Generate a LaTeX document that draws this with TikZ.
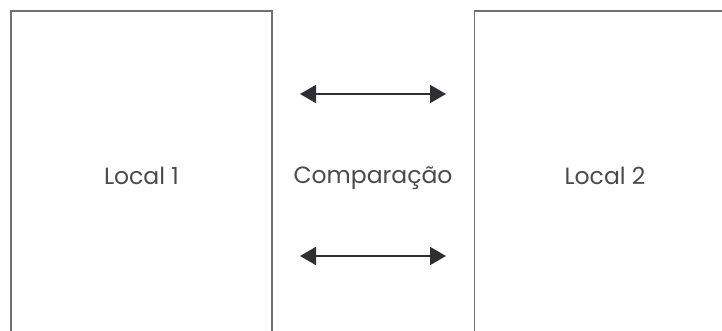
\documentclass[tikz,border=0pt]{standalone}
\usepackage{fontspec}
\setmainfont{Poppins}
\usetikzlibrary{arrows.meta}

\definecolor{boxgray}{HTML}{707070}
\definecolor{txtgray}{HTML}{4A4A4A}
\definecolor{arrowdark}{HTML}{2E2E33}

\tikzset{
  label/.style={text=txtgray, font=\fontsize{23.5}{26}\selectfont},
  place/.style={draw=boxgray, line width=1.3pt, minimum width=261pt, minimum height=330pt,
                inner sep=0pt, label},
  link/.style={arrowdark, line width=1.8pt, {Triangle[length=16pt,width=18pt]}-{Triangle[length=16pt,width=18pt]}}
}

\begin{document}
\begin{tikzpicture}[x=1pt,y=-1pt]

    \useasboundingbox (0,0) rectangle (722,331);
    \clip (0,0) rectangle (722,331);

	\node[place] (local1) at (141.5,176) {Local 1};
	\node[place] (local2) at (605,176) {Local 2};

	\node[label] (comp) at (373,178) {Comparação};

    \foreach \y/\n in {94/top,256/bot}{
        \coordinate (\n-l) at (300,\y);
        \coordinate (\n-r) at (446,\y);
    }

    \draw [link] (top-l) -- (top-r);
    \draw [link] (bot-l) -- (bot-r);
\end{tikzpicture}
\end{document}
